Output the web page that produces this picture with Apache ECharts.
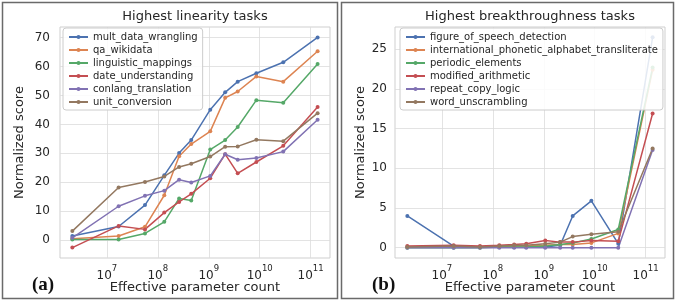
<!DOCTYPE html>
<html><head><meta charset="utf-8">
<script src="https://cdn.jsdelivr.net/npm/echarts@6/dist/echarts.min.js"></script>
<style>html,body{margin:0;padding:0;background:#fff}#c{width:679px;height:301px}</style>
</head><body><div id="c"></div>
<script>
// Effective parameter counts (x values, shared by both panels)
const paramCounts = [2.1e6, 1.7e7, 5.6e7, 1.34e8, 2.62e8, 4.53e8, 1.07e9, 2.1e9, 3.7e9, 8.6e9, 2.9e10, 1.37e11];

// Panel (a): Highest linearity tasks
const linearityNames = ['mult_data_wrangling', 'qa_wikidata', 'linguistic_mappings', 'date_understanding', 'conlang_translation', 'unit_conversion'];
const multDataWrangling  = [1.4, 4.7, 12.1, 22.4, 30.1, 34.6, 45.1, 51.1, 54.8, 57.7, 61.5, 70.1];
const qaWikidata         = [0.5, 1.4, 4.6, 15.5, 29.0, 33.2, 37.6, 49.2, 51.4, 56.6, 54.8, 65.3];
const linguisticMappings = [0.2, 0.2, 2.3, 6.3, 14.4, 13.7, 31.3, 34.6, 39.1, 48.4, 47.5, 60.9];
const dateUnderstanding  = [-2.6, 4.9, 3.7, 9.5, 13.2, 16.0, 21.4, 29.7, 23.1, 27.0, 32.6, 46.0];
const conlangTranslation = [0.8, 11.7, 15.3, 17.1, 20.9, 19.9, 22.2, 29.7, 27.8, 28.4, 30.6, 41.6];
const unitConversion     = [3.1, 18.2, 20.1, 22.0, 25.3, 26.4, 28.9, 32.3, 32.4, 34.7, 34.2, 43.9];

// Panel (b): Highest breakthroughness tasks
const breakthroughNames = ['figure_of_speech_detection', 'international_phonetic_alphabet_transliterate', 'periodic_elements', 'modified_arithmetic', 'repeat_copy_logic', 'word_unscrambling'];
const figureOfSpeech     = [4.0, 0.2, 0.1, 0.1, 0.1, 0.1, 0.1, 0.3, 4.0, 5.9, 0.5, 26.5];
const ipaTransliterate   = [0.1, 0.1, 0.1, 0.1, 0.2, 0.2, 0.3, 0.4, 0.4, 0.6, 1.8, 22.4];
const periodicElements   = [0.0, 0.0, 0.0, 0.1, 0.1, 0.1, 0.2, 0.4, 0.6, 1.1, 2.3, 22.7];
const modifiedArithmetic = [0.2, 0.3, 0.2, 0.3, 0.4, 0.5, 0.9, 0.7, 0.7, 0.9, 0.8, 16.9];
const repeatCopyLogic    = [0.0, 0.0, 0.0, 0.0, 0.0, 0.0, 0.0, 0.0, 0.0, 0.0, 0.0, 12.3];
const wordUnscrambling   = [0.1, 0.2, 0.1, 0.2, 0.3, 0.3, 0.5, 0.7, 1.4, 1.7, 2.0, 12.5];

// Tick labels
const xTickValues = [1e7, 1e8, 1e9, 1e10, 1e11];
const yTicksA = [0, 10, 20, 30, 40, 50, 60, 70];
const yTicksB = [0, 5, 10, 15, 20, 25];

const colors = ['#4C72B0', '#DD8452', '#55A868', '#C44E52', '#8172B3', '#937860'];
const FONT = 'DejaVu Sans';
const TXT = '#262626';

const chart = echarts.init(document.getElementById('c'), null, {renderer: 'canvas'});

function xAxisCfg(gi) {
  return {
    type: 'log', logBase: 10, gridIndex: gi,
    min: Math.pow(10, 6.08), max: Math.pow(10, 11.38),
    name: 'Effective parameter count', nameLocation: 'middle', nameGap: 23, nameMoveOverlap: false,
    nameTextStyle: {fontSize: 13, color: TXT, fontFamily: FONT},
    axisLine: {show: false},
    axisTick: {show: false, customValues: xTickValues},
    axisLabel: {
      customValues: xTickValues, margin: 6, color: TXT, fontFamily: FONT,
      formatter: v => '{b|10}{s|' + Math.round(Math.log10(v)) + '}',
      rich: {
        b: {fontSize: 12, lineHeight: 18, verticalAlign: 'bottom', fontFamily: FONT, color: TXT},
        s: {fontSize: 8.5, lineHeight: 10, verticalAlign: 'top', fontFamily: FONT, color: TXT}
      }
    },
    splitLine: {show: true, lineStyle: {color: '#dcdcdc', width: 0.8}}
  };
}
function yAxisCfg(gi, min, max, ticks, gap, lm) {
  return {
    type: 'value', gridIndex: gi, min: min, max: max,
    name: 'Normalized score', nameLocation: 'middle', nameGap: gap, nameMoveOverlap: false,
    nameTextStyle: {fontSize: 13, color: TXT, fontFamily: FONT},
    axisLine: {show: false},
    axisTick: {show: false, customValues: ticks},
    axisLabel: {customValues: ticks, fontSize: 12, margin: lm, color: TXT, fontFamily: FONT},
    splitLine: {show: true, lineStyle: {color: '#dcdcdc', width: 0.8}}
  };
}
function mk(name, ys, gi, color) {
  return {
    name: name, type: 'line', xAxisIndex: gi, yAxisIndex: gi,
    data: paramCounts.map((x, i) => [x, ys[i]]),
    symbol: 'circle', symbolSize: 4, showSymbol: true,
    lineStyle: {width: 1.5, color: color}, itemStyle: {color: color},
    emphasis: {disabled: true}
  };
}
function legendCfg(names, left) {
  return {
    data: names, left: left, top: 28, orient: 'vertical',
    itemWidth: 19, itemHeight: 5, itemGap: 1,
    padding: [3, 5, 2, 5],
    backgroundColor: 'rgba(255,255,255,0.85)', borderColor: '#cccccc', borderWidth: 1, borderRadius: 3,
    textStyle: {fontSize: 10, color: TXT, fontFamily: FONT, lineHeight: 12},
    selectedMode: false
  };
}

const seriesA = [multDataWrangling, qaWikidata, linguisticMappings, dateUnderstanding, conlangTranslation, unitConversion]
  .map((d, i) => mk(linearityNames[i], d, 0, colors[i]));
const seriesB = [figureOfSpeech, ipaTransliterate, periodicElements, modifiedArithmetic, repeatCopyLogic, wordUnscrambling]
  .map((d, i) => mk(breakthroughNames[i], d, 1, colors[i]));

chart.setOption({
  animation: false,
  backgroundColor: '#ffffff',
  grid: [
    {left: 60, right: 349, top: 27, bottom: 43, show: true, borderColor: '#cfcfcf', borderWidth: 1, backgroundColor: 'transparent', outerBoundsMode: 'none', containLabel: false},
    {left: 395, right: 14, top: 27, bottom: 43, show: true, borderColor: '#cfcfcf', borderWidth: 1, backgroundColor: 'transparent', outerBoundsMode: 'none', containLabel: false}
  ],
  xAxis: [xAxisCfg(0), xAxisCfg(1)],
  yAxis: [yAxisCfg(0, -6.2, 73.7, yTicksA, 34, 10), yAxisCfg(1, -1.3, 27.8, yTicksB, 28, 8)],
  legend: [legendCfg(linearityNames, 63), legendCfg(breakthroughNames, 400)],
  series: seriesA.concat(seriesB),
  graphic: [
    {type: 'rect', shape: {x: 2.5, y: 2.5, width: 335, height: 296}, style: {fill: 'none', stroke: '#6a6a6a', lineWidth: 1.5}, silent: true},
    {type: 'rect', shape: {x: 341.5, y: 2.5, width: 332, height: 296}, style: {fill: 'none', stroke: '#6a6a6a', lineWidth: 1.5}, silent: true},
    {type: 'text', x: 195, y: 17, style: {text: 'Highest linearity tasks', align: 'center', verticalAlign: 'middle', fontSize: 13, fontFamily: FONT, fill: TXT}, silent: true},
    {type: 'text', x: 530, y: 17, style: {text: 'Highest breakthroughness tasks', align: 'center', verticalAlign: 'middle', fontSize: 13, fontFamily: FONT, fill: TXT}, silent: true},
    {type: 'text', x: 32, y: 285, style: {text: '(a)', align: 'left', verticalAlign: 'middle', fontSize: 19, fontWeight: 'bold', fontFamily: 'Liberation Serif', fill: '#111'}, silent: true},
    {type: 'text', x: 372, y: 285, style: {text: '(b)', align: 'left', verticalAlign: 'middle', fontSize: 19, fontWeight: 'bold', fontFamily: 'Liberation Serif', fill: '#111'}, silent: true}
  ]
});
</script>
</body></html>
